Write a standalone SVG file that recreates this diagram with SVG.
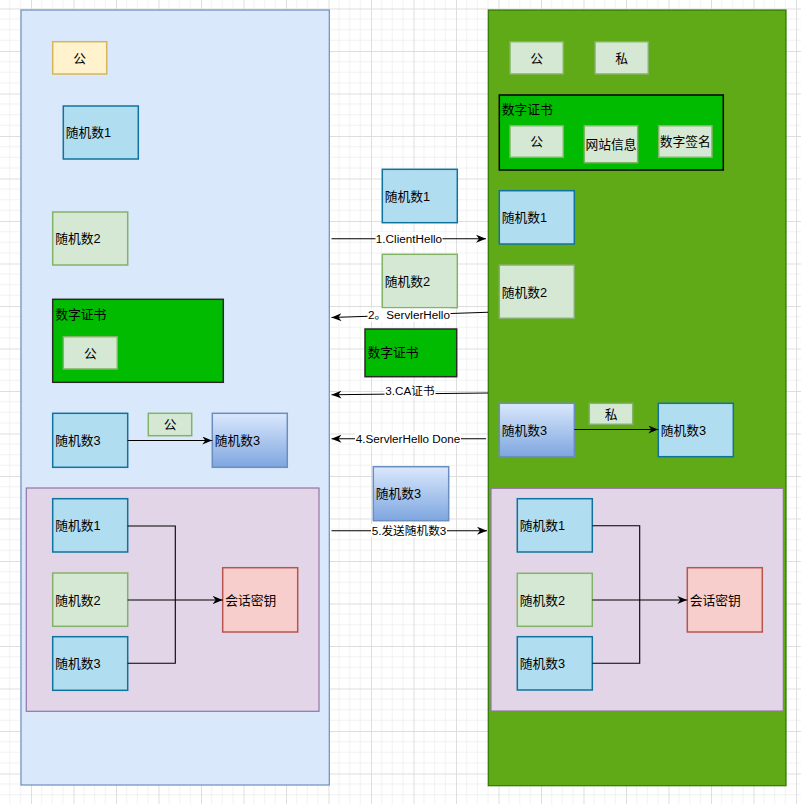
<svg xmlns="http://www.w3.org/2000/svg" width="801" height="804" viewBox="0 0 801 804">
<defs>
<pattern id="grid" patternUnits="userSpaceOnUse" x="-11.5" y="-34" width="42.5" height="42.5">
<path d="M10.625 0V42.5M21.25 0V42.5M31.875 0V42.5M0 10.625H42.5M0 21.25H42.5M0 31.875H42.5" stroke="#f1f1f1" stroke-width="1" fill="none"/>
<path d="M0.5 0V42.5M0 0.5H42.5" stroke="#dedede" stroke-width="1" fill="none"/>
</pattern>
<linearGradient id="g" x1="0" y1="0" x2="0" y2="1">
<stop offset="0" stop-color="#dae8fc"/>
<stop offset="1" stop-color="#7ea6e0"/>
</linearGradient>
<marker id="arr" markerUnits="userSpaceOnUse" viewBox="0 0 10 8" markerWidth="10" markerHeight="8" refX="10" refY="4" orient="auto">
<path d="M0,0 L10,4 L0,8 L3,4 Z" fill="#000"/>
</marker>
</defs>
<style>
text{font-family:"Liberation Sans","Noto Sans CJK SC",sans-serif;font-size:12.75px;fill:#000}
.c{text-anchor:middle}
.el{font-size:11.7px;text-anchor:middle}
.blue{fill:#b1ddf0;stroke:#10739e;stroke-width:1.5}
.green{fill:#d5e8d4;stroke:#82b366;stroke-width:1.5}
.grad{fill:url(#g);stroke:#6c8ebf;stroke-width:1.5}
.cert{fill:#00bb00;stroke:#2a2a2a;stroke-width:1.5}
.purple{fill:#e1d5e7;stroke:#9673a6;stroke-width:1.2}
.red{fill:#f8cecc;stroke:#b85450;stroke-width:1.5}
.yellow{fill:#fff2cc;stroke:#d6b656;stroke-width:1.5}
.edge{fill:none;stroke:#000;stroke-width:1.1}
.lbg{fill:#fff}
</style>
<rect width="801" height="804" fill="#fff"/>
<rect width="801" height="804" fill="url(#grid)"/>

<g id="client">
<rect x="21" y="10" width="308.3" height="775" fill="#dae8fc" stroke="#6c8ebf" stroke-width="1.2"/>
</g>
<g id="server">
<rect x="488.3" y="10" width="297.7" height="775.7" fill="#60a917" stroke="#2d7600" stroke-width="1.2"/>
</g>

<g id="c-pub"><rect class="yellow" x="52.7" y="41.7" width="54" height="32.3"/><text class="c" x="79.7" y="62.5">公</text></g>
<g id="c-r1"><rect class="blue" x="63.3" y="106" width="75" height="53"/><text x="65.7" y="137">随机数1</text></g>
<g id="c-r2"><rect class="green" x="52.7" y="212" width="75" height="53"/><text x="55.2" y="243">随机数2</text></g>
<g id="c-cert"><rect class="cert" x="52.7" y="299.3" width="170.6" height="83"/><text x="55.2" y="318.5">数字证书</text></g>
<g id="c-cert-pub"><rect class="green" x="63.3" y="336.7" width="54" height="32.3"/><text class="c" x="90.3" y="357.5">公</text></g>
<g id="c-r3"><rect class="blue" x="52.7" y="413.3" width="75" height="54"/><text x="55.2" y="445">随机数3</text></g>
<g id="c-pub2"><rect class="green" x="148.3" y="413.3" width="43.4" height="22.4"/><text class="c" x="170" y="429">公</text></g>
<g id="c-r3e"><rect class="grad" x="212.3" y="413.3" width="75" height="54"/><text x="214.8" y="445">随机数3</text></g>

<g id="c-session">
<rect class="purple" x="26.3" y="488" width="292.7" height="223.3"/>
</g>
<g id="c-s-r1"><rect class="blue" x="52.7" y="498.7" width="75" height="53.3"/><text x="55.2" y="530">随机数1</text></g>
<g id="c-s-r2"><rect class="green" x="52.7" y="573" width="75" height="53.3"/><text x="55.2" y="604.5">随机数2</text></g>
<g id="c-s-r3"><rect class="blue" x="52.7" y="636.7" width="75" height="53.6"/><text x="55.2" y="668">随机数3</text></g>
<g id="c-s-key"><rect class="red" x="222.7" y="567.7" width="75" height="64.3"/><text x="225.2" y="604.5">会话密钥</text></g>

<g id="s-pub"><rect class="green" x="510" y="41.7" width="53.3" height="32.3"/><text class="c" x="536.7" y="62.5">公</text></g>
<g id="s-priv"><rect class="green" x="595" y="41.7" width="53.3" height="32.3"/><text class="c" x="621.7" y="62.5">私</text></g>
<g id="s-cert"><rect class="cert" x="499.3" y="95" width="224" height="75" style="stroke:#000"/><text x="501.8" y="114">数字证书</text></g>
<g id="s-cert-pub"><rect class="green" x="510" y="125.7" width="53.3" height="31.6"/><text class="c" x="536.7" y="146">公</text></g>
<g id="s-cert-info"><rect class="green" x="584.3" y="125.7" width="53.4" height="37"/><text class="c" x="611" y="148.5">网站信息</text></g>
<g id="s-cert-sig"><rect class="green" x="658.7" y="125.7" width="53.3" height="31.6"/><text class="c" x="685.3" y="146">数字签名</text></g>
<g id="s-r1"><rect class="blue" x="499.3" y="190.7" width="75" height="53.3"/><text x="501.8" y="222">随机数1</text></g>
<g id="s-r2"><rect class="green" x="499.3" y="265" width="75" height="53.3"/><text x="501.8" y="296.5">随机数2</text></g>
<g id="s-r3e"><rect class="grad" x="499.3" y="403.3" width="75" height="53.4"/><text x="501.8" y="434.5">随机数3</text></g>
<g id="s-priv2"><rect class="green" x="589.3" y="403.3" width="43.4" height="21"/><text class="c" x="611" y="418.5">私</text></g>
<g id="s-r3"><rect class="blue" x="658.3" y="403.3" width="75" height="53.4"/><text x="660.8" y="434.5">随机数3</text></g>

<g id="s-session">
<rect class="purple" x="491" y="488.3" width="292.3" height="222.7"/>
</g>
<g id="s-s-r1"><rect class="blue" x="517.3" y="498.7" width="75" height="53.3"/><text x="519.8" y="530">随机数1</text></g>
<g id="s-s-r2"><rect class="green" x="517.3" y="573.3" width="75" height="53"/><text x="519.8" y="604.5">随机数2</text></g>
<g id="s-s-r3"><rect class="blue" x="517.3" y="636.7" width="75" height="53.3"/><text x="519.8" y="668">随机数3</text></g>
<g id="s-s-key"><rect class="red" x="687.3" y="567.7" width="75" height="64.3"/><text x="689.8" y="604.5">会话密钥</text></g>

<g id="m-r1"><rect class="blue" x="382.3" y="169.3" width="75" height="53.4"/><text x="384.8" y="200.5">随机数1</text></g>
<g id="m-r2"><rect class="green" x="382.3" y="254.3" width="75" height="53.4"/><text x="384.8" y="285.5">随机数2</text></g>
<g id="m-cert"><rect class="cert" x="365" y="329" width="91.7" height="47.7"/><text x="367.5" y="357">数字证书</text></g>
<g id="m-r3"><rect class="grad" x="373.3" y="466.7" width="75.4" height="54"/><text x="375.8" y="498">随机数3</text></g>

<g id="connectors">
<path class="edge" d="M331.5 238.7H486" marker-end="url(#arr)"/>
<rect class="lbg" x="375.5" y="232" width="67" height="13"/>
<text class="el" x="409" y="242.8">1.ClientHello</text>

<path class="edge" d="M488 312.3L331.5 317.5" marker-end="url(#arr)"/>
<rect class="lbg" x="367.5" y="308.5" width="83" height="13"/>
<text class="el" x="409" y="319.2">2。ServlerHello</text>

<path class="edge" d="M488 393L331.5 394.7" marker-end="url(#arr)"/>
<rect class="lbg" x="384.5" y="384.5" width="51" height="13"/>
<text class="el" x="410" y="395.2">3.CA证书</text>

<path class="edge" d="M486 438.7H331.5" marker-end="url(#arr)"/>
<rect class="lbg" x="355" y="432" width="106" height="13"/>
<text class="el" x="408" y="442.8">4.ServlerHello Done</text>

<path class="edge" d="M331.5 530.7H487" marker-end="url(#arr)"/>
<rect class="lbg" x="371" y="524" width="76" height="13"/>
<text class="el" x="409" y="534.8">5.发送随机数3</text>

<path class="edge" d="M127.7 440.5H212.3" marker-end="url(#arr)"/>
<path class="edge" d="M574.3 429.5H658.3" marker-end="url(#arr)"/>

<path class="edge" d="M127.7 526H175.3V663.3H127.7"/>
<path class="edge" d="M127.7 600H222.7" marker-end="url(#arr)"/>
<path class="edge" d="M592.3 525.7H639.7V663.3H592.3"/>
<path class="edge" d="M592.3 600H687.3" marker-end="url(#arr)"/>
</g>
</svg>
